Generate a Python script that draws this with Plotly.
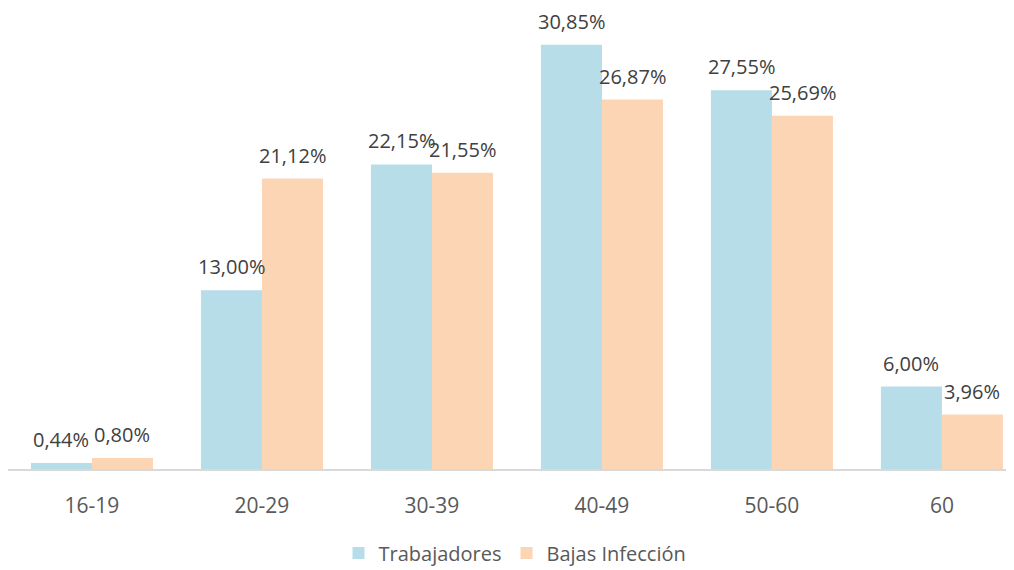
import plotly.graph_objects as go

categories = ["16-19", "20-29", "30-39", "40-49", "50-60", "60"]
trabajadores = [0.44, 13.00, 22.15, 30.85, 27.55, 6.00]
bajas = [0.80, 21.12, 21.55, 26.87, 25.69, 3.96]

def fmt(v):
    return f"{v:.2f}".replace(".", ",") + "%"

FONT = "Open Sans"
fig = go.Figure()
fig.add_trace(go.Bar(
    x=categories, y=trabajadores, name="Trabajadores",
    marker=dict(color="#B7DDE8", line=dict(width=0)),
))
fig.add_trace(go.Bar(
    x=categories, y=bajas, name="Bajas Infección",
    marker=dict(color="#FCD5B5", line=dict(width=0)),
))

for series, shift in ((trabajadores, -30.5), (bajas, 30.5)):
    for i, v in enumerate(series):
        fig.add_annotation(
            x=i, y=v, xref="x", yref="y", text=fmt(v), showarrow=False,
            xanchor="center", yanchor="bottom", xshift=shift, yshift=9,
            borderpad=0,
            font=dict(size=20, color="#404040", family=FONT),
        )

fig.update_layout(
    width=1014, height=570,
    margin=dict(l=0, r=0, t=21, b=109),
    paper_bgcolor="white", plot_bgcolor="white",
    barmode="group", bargap=0.282, bargroupgap=0,
    font=dict(family=FONT, color="#595959", size=20),
    showlegend=True,
    legend=dict(orientation="h", x=0.5, xanchor="center", y=-0.191, yanchor="middle",
                font=dict(size=20, color="#595959", family=FONT),
                traceorder="normal"),
)
fig.update_xaxes(
    type="category",
    range=[-0.494, 5.471], showgrid=False, showline=True, linecolor="#D9D9D9",
    linewidth=1.5, ticks="", ticklabelstandoff=17,
    tickfont=dict(size=21, color="#595959", family=FONT),
)
fig.update_yaxes(range=[0, 32], visible=False, showgrid=False, zeroline=False)

fig.write_html("out.html")
